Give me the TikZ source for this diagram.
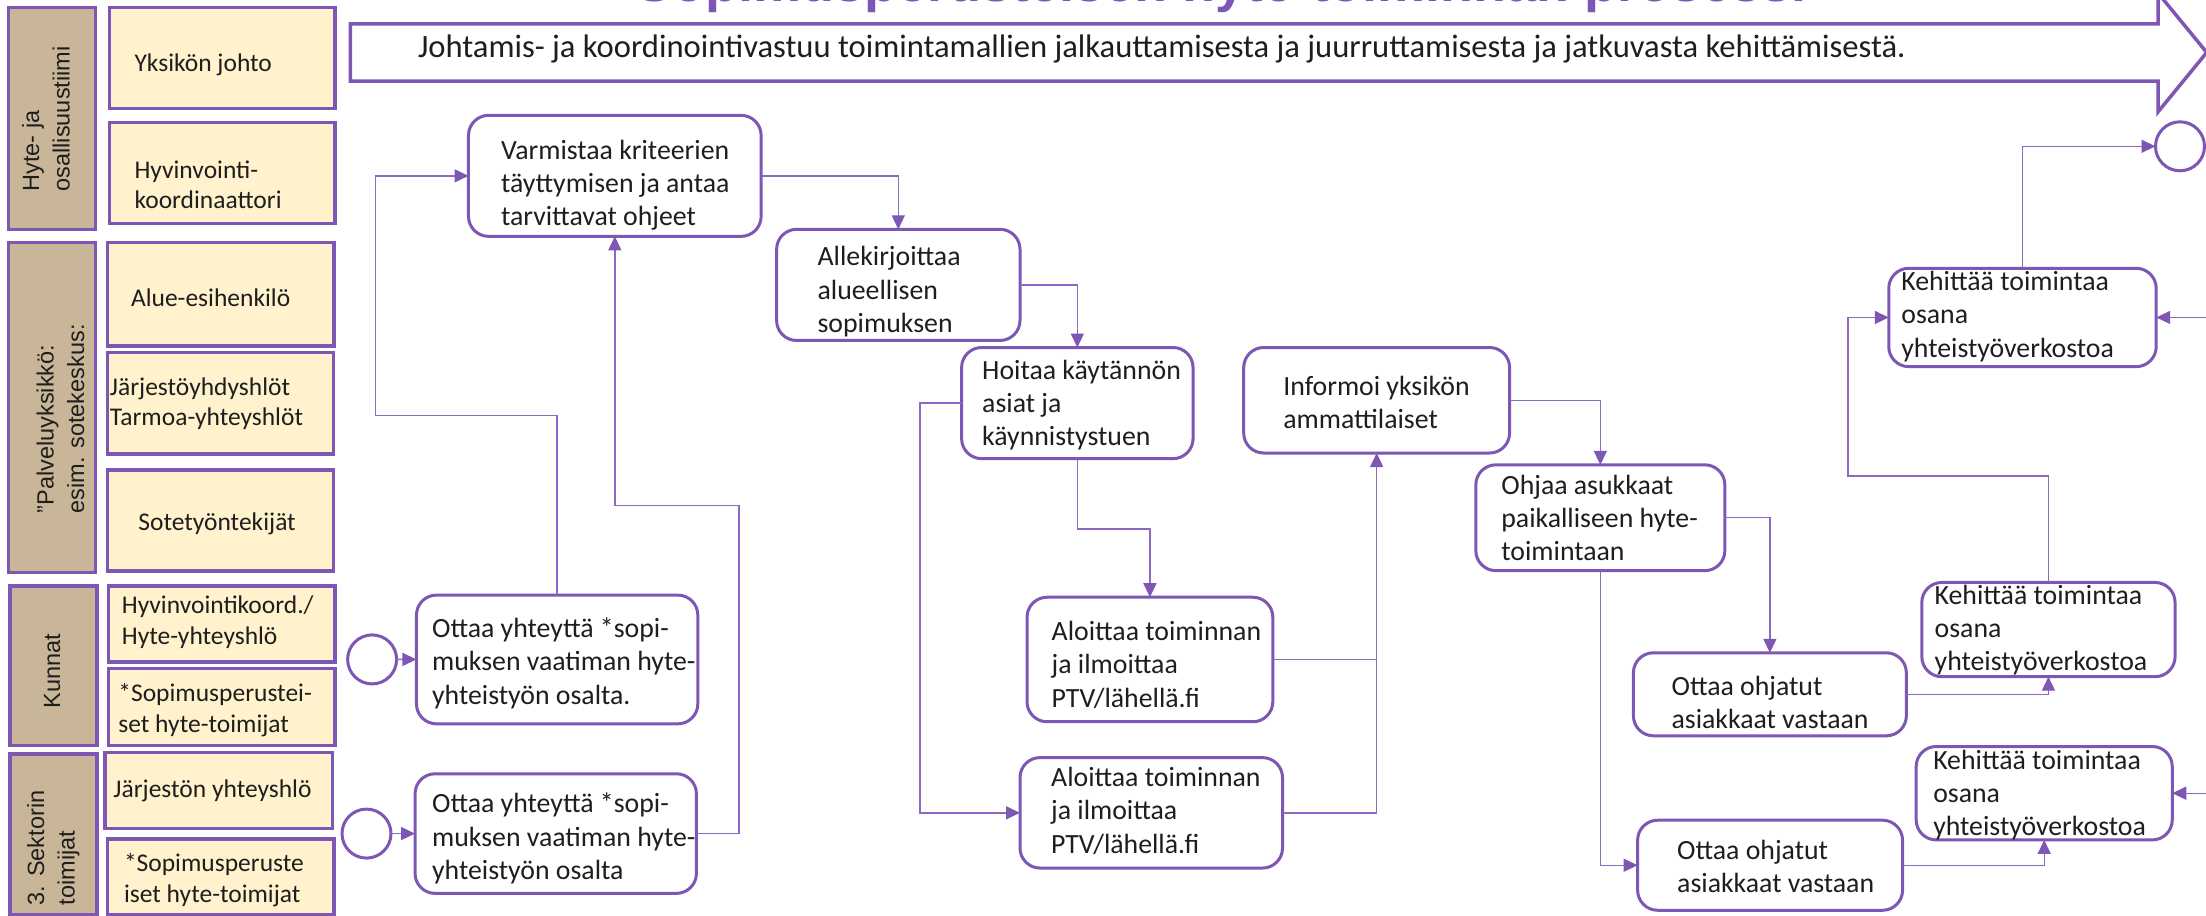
\documentclass[tikz,border=0pt]{standalone}
\usepackage{fontspec}
\setmainfont{Carlito}
\newfontfamily\labelsans{Liberation Sans}
\usetikzlibrary{arrows.meta}

\definecolor{flowpurple}{RGB}{126,87,180}
\definecolor{linkpurple}{RGB}{140,106,196}
\definecolor{roletan}{RGB}{201,182,153}
\definecolor{roleyellow}{RGB}{255,242,204}
\definecolor{inkgray}{RGB}{30,30,30}

\tikzset{
  proc/.style={draw=flowpurple, line width=3pt, rounded corners=20pt, fill=white, inner sep=0pt, outer sep=0pt},
  ptext/.style={font=\fontsize{27.8pt}{33.2pt}\selectfont, text=inkgray, align=left, inner sep=0pt},
  rolebox/.style={draw=flowpurple, line width=3.5pt, fill=roleyellow, inner sep=0pt, outer sep=0pt},
  roletext/.style={font=\fontsize{25.5pt}{30.5pt}\selectfont, text=inkgray, align=left, inner sep=0pt},
  groupbox/.style={draw=flowpurple, line width=3.5pt, fill=roletan, inner sep=0pt, outer sep=0pt},
  grouptext/.style={font=\labelsans\fontsize{23.5pt}{30.5pt}\selectfont, text=inkgray, align=left, inner sep=0pt, rotate=90},
  event/.style={circle, draw=flowpurple, line width=3pt, fill=white, minimum size=49pt, inner sep=0pt, outer sep=0pt},
  link/.style={draw=linkpurple, line width=1.4pt},
  conn/.style={link, -{Triangle[length=14pt,width=13pt,color=flowpurple]}},
  banner/.style={draw=flowpurple, line width=3.5pt, fill=white, line join=miter},
}

% process step: name, x1, y1, x2, y2, text x, text y, text
\newcommand\procnode[8]{%
  \node[proc, minimum width={(#4-#2)*1.407pt}, minimum height={(#5-#3)*1.407pt}] (#1) at ({(#2+#4)/2},{(#3+#5)/2}) {};
  \node[ptext, anchor=west] (#1-txt) at (#6,#7) {#8};}
% role box: name, x1, y1, x2, y2, text anchor, text x, text y, text
\newcommand\rolenode[9]{%
  \node[rolebox, minimum width={(#4-#2)*1.407pt}, minimum height={(#5-#3)*1.407pt}] (#1) at ({(#2+#4)/2},{(#3+#5)/2}) {};
  \node[roletext, anchor=#6] (#1-txt) at (#7,#8) {#9};}
% swimlane group: name, x1, y1, x2, y2, text x, text y, text
\newcommand\groupnode[8]{%
  \node[groupbox, minimum width={(#4-#2)*1.407pt}, minimum height={(#5-#3)*1.407pt}] (#1) at ({(#2+#4)/2},{(#3+#5)/2}) {};
  \node[grouptext] (#1-txt) at (#6,#7) {#8};}

\begin{document}
\begin{tikzpicture}[x=1.407pt, y=-1.407pt]
\useasboundingbox (0,0) rectangle (1568,651);
\clip (0,0) rectangle (1568,651);
\fill[white] (0,0) rectangle (1568,651);

% title
\node[font=\labelsans\bfseries\fontsize{54pt}{60pt}\selectfont, text=flowpurple, anchor=base, inner sep=0pt] (title) at (868,1.1) {Sopimusperusteisen hyte-toiminnan prosessi};

% banner arrow
\draw[banner] (249,17) -- (1534,17) -- (1534,-4.8) -- (1568.5,37.3) -- (1534,79.4) -- (1534,57.6) -- (249,57.6) -- cycle;
\node[font=\fontsize{32.6pt}{38pt}\selectfont, text=inkgray, inner sep=0pt, anchor=west] (mission) at (297,34.5) {Johtamis- ja koordinointivastuu toimintamallien jalkauttamisesta ja juurruttamisesta ja jatkuvasta kehittämisestä.};

% swimlane groups
\groupnode{gA}{6}{5.2}{68}{163}{32.7}{84.5}{Hyte- ja\\osallisuustiimi}
\groupnode{gB}{6}{172.5}{68}{407}{43}{297.7}{”Palveluyksikkö:\\esim. sotekeskus:}
\groupnode{gC}{7}{416.5}{69}{530}{37}{477}{Kunnat}
\groupnode{gD}{7}{536}{69}{650.5}{37.8}{602.7}{3. Sektorin\\toimijat}

% roles
\rolenode{rA}{78}{5.2}{238}{77}{west}{95.5}{46}{Yksikön johto}
\rolenode{rB}{78}{87}{238}{159}{west}{95.5}{131.4}{Hyvinvointi-\\koordinaattori}
\rolenode{rC}{76.5}{172.5}{237.5}{246}{west}{93}{211.5}{Alue-esihenkilö}
\rolenode{rD}{76.5}{250.7}{237}{322.7}{west}{78}{287}{Järjestöyhdyshlöt\\Tarmoa-yhteyshlöt}
\rolenode{rE}{76.5}{334}{237}{406}{center}{154.3}{372.6}{Sotetyöntekijät}
\rolenode{rF}{77}{416.5}{238}{470.5}{west}{86.5}{442.4}{Hyvinvointikoord./\\Hyte-yhteyshlö}
\rolenode{rG}{77}{475}{238}{530}{west}{84}{504.6}{*Sopimusperustei-\\set hyte-toimijat}
\rolenode{rH}{74.5}{535}{236.5}{589}{west}{80.5}{562}{Järjestön yhteyshlö}
\rolenode{rI}{76.5}{596.5}{237.5}{650.5}{west}{88}{625.5}{*Sopimusperuste\\iset hyte-toimijat}

% events
\node[event] (c1) at (264.5,468.7) {};
\node[event] (c2) at (260.5,592.5) {};
\node[event] (c3) at (1549.5,104) {};

% process steps
\procnode{n1}{333}{82}{541}{168}{356}{131.5}{Varmistaa kriteerien\\täyttymisen ja antaa\\tarvittavat ohjeet}
\procnode{n2}{552}{163}{725}{242}{581}{207.3}{Allekirjoittaa\\alueellisen\\sopimuksen}
\procnode{n3}{683.5}{247}{848}{326}{698}{288}{Hoitaa käytännön\\asiat ja\\käynnistystuen}
\procnode{n4}{884}{247}{1073}{322}{912}{286}{Informoi yksikön\\ammattilaiset}
\procnode{n5}{1049}{330.4}{1226}{405.6}{1067}{368}{Ohjaa asukkaat\\paikalliseen hyte-\\toimintaan}
\procnode{n6}{730}{424.5}{904.7}{513}{747.4}{472.5}{Aloittaa toiminnan\\ja ilmoittaa\\PTV/lähellä.fi}
\procnode{n7}{725}{538.5}{911.6}{617}{747}{576.4}{Aloittaa toiminnan\\ja ilmoittaa\\PTV/lähellä.fi}
\procnode{n8}{296}{423}{496}{514.5}{307}{471.4}{Ottaa yhteyttä *sopi-\\muksen vaatiman hyte-\\yhteistyön osalta.}
\procnode{n9}{295}{550}{495}{635}{307}{596}{Ottaa yhteyttä *sopi-\\muksen vaatiman hyte-\\yhteistyön osalta}
\procnode{n10}{1161}{464}{1355}{523}{1188}{499.4}{Ottaa ohjatut\\asiakkaat vastaan}
\procnode{n11}{1164}{583}{1352.3}{647}{1192}{616}{Ottaa ohjatut\\asiakkaat vastaan}
\procnode{n12}{1342.5}{190.7}{1532.6}{260.6}{1351.3}{225}{Kehittää toimintaa\\osana\\yhteistyöverkostoa}
\procnode{n13}{1366}{414}{1546}{481}{1375}{447.8}{Kehittää toimintaa\\osana\\yhteistyöverkostoa}
\procnode{n14}{1362}{530.6}{1544}{597}{1374}{565}{Kehittää toimintaa\\osana\\yhteistyöverkostoa}

% inflows from the right margin
\coordinate (feedA) at (1572,225.65);
\coordinate (feedB) at (1572,563.8);

% connectors
\draw[conn] (c1) -- (n8);
\draw[conn] (c2) -- (n9);
\draw[conn] (n8.north) |- (267,295.4) |- (n1.west);
\draw[conn] (n9.east) -| (525.4,359.4) -| (n1.south);
\draw[conn] (n1.east) -| (n2.north);
\draw[conn] (n2.east) -| (n3.north);
\draw[conn] (n3.west) -| (654,577.75) -- (n7.west);
\draw[conn] (n3.south) |- (n6.north |- 0,376) -- (n6.north);
\draw[conn] (n6.east) -| (n4.south);
\draw[link] (n7.east) -| (n4.south |- n6.east);
\draw[conn] (n4.east) -| (n5.north);
\draw[conn] (n5.east) -| (n10.north);
\draw[conn] (n5.south) |- (n11.west);
\draw[conn] (n10.east) -| (n13.south);
\draw[conn] (n11.east) -| (n14.south);
\draw[conn] (n13.north) |- (1313.6,338.3) |- (n12.west);
\draw[conn] (n12.north) |- (c3.west);
\draw[conn] (feedA) -- (n12.east);
\draw[conn] (feedB) -- (n14.east);
\end{tikzpicture}
\end{document}
